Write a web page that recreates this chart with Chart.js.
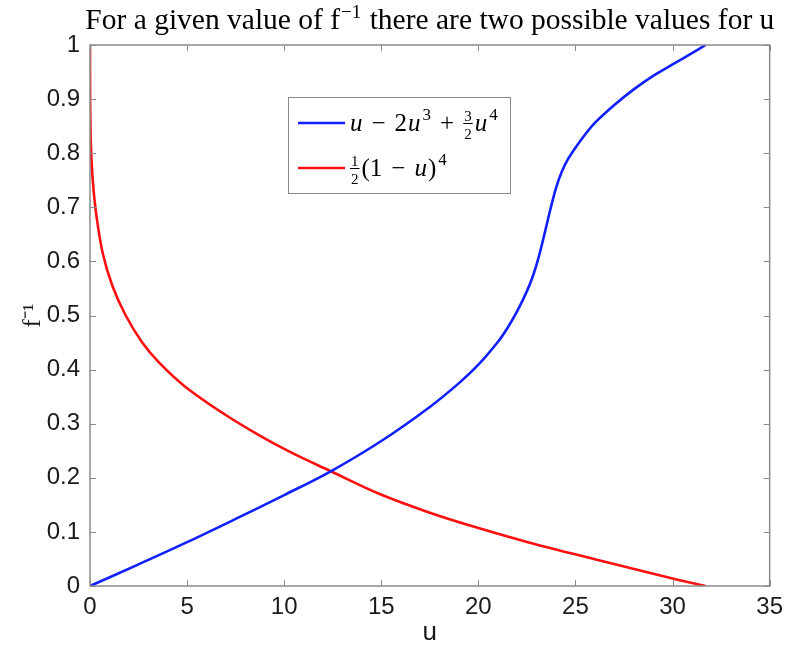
<!DOCTYPE html>
<html>
<head>
<meta charset="utf-8">
<script src="https://cdn.jsdelivr.net/npm/chart.js@4.4.1/dist/chart.umd.min.js"></script>
<style>
  html, body { margin: 0; padding: 0; background: #fff; }
  #wrap { width: 790px; height: 648px; position: relative; }
</style>
</head>
<body>
<div id="wrap"><canvas id="c" width="790" height="648"></canvas></div>
<script>
// Blue curve: u - 2u^3 + 3/2 u^4
const blueU = [0, 2.5, 5, 7.5, 10, 12.4, 15, 17.5, 19, 20, 21, 21.5, 22, 22.5, 22.8, 23.1, 23.4, 23.7, 24.0, 24.3, 24.6, 25.0, 25.4, 26, 27, 28, 29, 30, 31, 31.7];
const blueF = [0, 0.040, 0.081, 0.124, 0.168, 0.212, 0.268, 0.331, 0.375, 0.409, 0.451, 0.477, 0.508, 0.545, 0.572, 0.607, 0.650, 0.695, 0.736, 0.766, 0.788, 0.810, 0.830, 0.856, 0.889, 0.918, 0.943, 0.964, 0.985, 1.0];

// Red curve: 1/2 (1 - u)^4
const redU = [0, 0.005, 0.02, 0.05, 0.14, 0.31, 0.65, 1.16, 1.84, 2.69, 3.56, 4.92, 6.95, 8.65, 10.35, 12.35, 14.92, 17.46, 19.92, 22.55, 25.94, 30.0, 31.7];
const redF = [1, 0.917, 0.856, 0.81, 0.751, 0.69, 0.616, 0.554, 0.500, 0.450, 0.413, 0.368, 0.317, 0.280, 0.247, 0.213, 0.170, 0.136, 0.108, 0.081, 0.050, 0.014, 0];

const xTicks = [0, 5, 10, 15, 20, 25, 30, 35];
const yTicks = [0, 0.1, 0.2, 0.3, 0.4, 0.5, 0.6, 0.7, 0.8, 0.9, 1];

const titleParts = ['For a given value of f', '\u22121', ' there are two possible values for u'];

const toPts = (xs, ys) => xs.map((x, i) => ({ x: x, y: ys[i] }));

const AXIS = '#8a8a8a';
const TEXT = '#1a1a1a';

// Inward tick marks on all four sides plus the box frame
const boxTicks = {
  id: 'boxTicks',
  afterDraw(chart) {
    const { ctx, chartArea: a, scales } = chart;
    ctx.save();
    ctx.strokeStyle = AXIS;
    ctx.lineWidth = 1;
    ctx.beginPath();
    xTicks.forEach(v => {
      const px = Math.round(scales.x.getPixelForValue(v)) + 0.5;
      ctx.moveTo(px, a.bottom); ctx.lineTo(px, a.bottom - 6);
      ctx.moveTo(px, a.top); ctx.lineTo(px, a.top + 6);
    });
    yTicks.forEach(v => {
      const py = Math.round(scales.y.getPixelForValue(v)) + 0.5;
      ctx.moveTo(a.left, py); ctx.lineTo(a.left + 6, py);
      ctx.moveTo(a.right, py); ctx.lineTo(a.right - 6, py);
    });
    ctx.stroke();
    ctx.lineWidth = 1.5;
    ctx.strokeRect(a.left, a.top, a.right - a.left, a.bottom - a.top);
    ctx.restore();
  }
};

// Title with a superscript, centred over the plot area
const mathTitle = {
  id: 'mathTitle',
  afterDraw(chart) {
    const { ctx, chartArea: a } = chart;
    ctx.save();
    const big = '29.5px "Liberation Serif"';
    const small = '19px "Liberation Serif"';
    ctx.font = big; const w0 = ctx.measureText(titleParts[0]).width;
    ctx.font = small; const w1 = ctx.measureText(titleParts[1]).width;
    ctx.font = big; const w2 = ctx.measureText(titleParts[2]).width;
    let x = (a.left + a.right) / 2 - (w0 + w1 + w2 + 2) / 2;
    const base = 29;
    ctx.fillStyle = '#000';
    ctx.textBaseline = 'alphabetic';
    ctx.textAlign = 'left';
    ctx.font = big; ctx.fillText(titleParts[0], x, base); x += w0 + 1;
    ctx.font = small; ctx.fillText(titleParts[1], x, base - 11); x += w1 + 1;
    ctx.font = big; ctx.fillText(titleParts[2], x, base);
    ctx.restore();
  }
};

// Legend with typeset formulae
const mathLegend = {
  id: 'mathLegend',
  afterDraw(chart) {
    const { ctx } = chart;
    const bx = 288.5, by = 97.5, bw = 222, bh = 96;
    ctx.save();
    ctx.fillStyle = '#fff';
    ctx.fillRect(bx, by, bw, bh);
    ctx.strokeStyle = AXIS;
    ctx.lineWidth = 1;
    ctx.strokeRect(bx, by, bw, bh);

    const ds = chart.data.datasets;
    const rows = [123, 168];
    ds.forEach((d, i) => {
      ctx.strokeStyle = d.borderColor;
      ctx.lineWidth = 2.5;
      ctx.beginPath();
      ctx.moveTo(298, rows[i]); ctx.lineTo(345, rows[i]);
      ctx.stroke();
    });

    const it = 'italic 25px "Liberation Serif"';
    const rm = '25px "Liberation Serif"';
    const sup = '17px "Liberation Serif"';
    const frac = '15px "Liberation Serif"';
    ctx.fillStyle = '#000';
    ctx.textBaseline = 'alphabetic';
    ctx.textAlign = 'left';

    const put = (s, font, x, y) => { ctx.font = font; ctx.fillText(s, x, y); return x + ctx.measureText(s).width; };
    const putFrac = (n, dn, x, y) => {
      ctx.font = frac;
      const w = Math.max(ctx.measureText(n).width, ctx.measureText(dn).width) + 2;
      ctx.textAlign = 'center';
      ctx.fillText(n, x + w / 2, y - 10);
      ctx.fillText(dn, x + w / 2, y + 8);
      ctx.textAlign = 'left';
      ctx.fillRect(x, y - 8, w, 1);
      return x + w;
    };

    // row 1: u − 2u³ + ³⁄₂u⁴
    let y = rows[0] + 8, x = 350;
    x = put('u', it, x, y);
    x = put('\u2212', rm, x + 9, y);
    x = put('2', rm, x + 9, y);
    x = put('u', it, x + 1, y);
    x = put('3', sup, x + 2, y - 11);
    x = put('+', rm, x + 9, y);
    x = putFrac('3', '2', x + 9, y);
    x = put('u', it, x + 2, y);
    x = put('4', sup, x + 2, y - 11);

    // row 2: ½(1 − u)⁴
    y = rows[1] + 8; x = 350;
    x = putFrac('1', '2', x, y);
    x = put('(1', rm, x + 2, y);
    x = put('\u2212', rm, x + 9, y);
    x = put('u', it, x + 9, y);
    x = put(')', rm, x + 1, y);
    x = put('4', sup, x + 2, y - 11);
    ctx.restore();
  }
};

new Chart(document.getElementById('c'), {
  type: 'scatter',
  data: {
    datasets: [
      {
        label: 'u - 2u^3 + 3/2 u^4',
        data: toPts(blueU, blueF),
        showLine: true,
        borderColor: '#1020ff',
        borderWidth: 2.6,
        pointRadius: 0,
        tension: 0.35,
        fill: false
      },
      {
        label: '1/2 (1-u)^4',
        data: toPts(redU, redF),
        showLine: true,
        borderColor: '#ff1010',
        borderWidth: 2.6,
        pointRadius: 0,
        tension: 0.35,
        fill: false
      }
    ]
  },
  options: {
    responsive: false,
    animation: false,
    events: [],
    layout: { padding: { left: 0, right: 0, top: 45, bottom: 0 } },
    plugins: {
      legend: { display: false },
      tooltip: { enabled: false }
    },
    scales: {
      x: {
        type: 'linear',
        min: 0, max: 35,
        afterBuildTicks(s) { s.ticks = xTicks.map(v => ({ value: v })); },
        afterFit(s) { s.height = 62; },
        grid: { display: false, drawTicks: false },
        border: { display: false },
        ticks: {
          color: TEXT,
          padding: 7,
          font: { family: 'Liberation Sans', size: 24 },
          maxRotation: 0,
          callback: v => String(v)
        },
        title: {
          display: true,
          text: 'u',
          color: TEXT,
          font: { family: 'Liberation Sans', size: 26 },
          padding: { top: 0, bottom: 0 }
        }
      },
      y: {
        type: 'linear',
        min: 0, max: 1,
        afterBuildTicks(s) { s.ticks = yTicks.map(v => ({ value: v })); },
        afterFit(s) { s.width = 90; },
        grid: { display: false, drawTicks: false },
        border: { display: false },
        ticks: {
          color: TEXT,
          padding: 10,
          font: { family: 'Liberation Sans', size: 24 },
          callback: v => (v === 0 ? '0' : v === 1 ? '1' : v.toFixed(1))
        },
        title: {
          display: true,
          text: 'f\u207B\u00B9',
          color: TEXT,
          font: { family: 'Liberation Serif', size: 25 },
          padding: { top: 18, bottom: 0 }
        }
      }
    }
  },
  plugins: [boxTicks, mathTitle, mathLegend]
});
</script>
</body>
</html>
